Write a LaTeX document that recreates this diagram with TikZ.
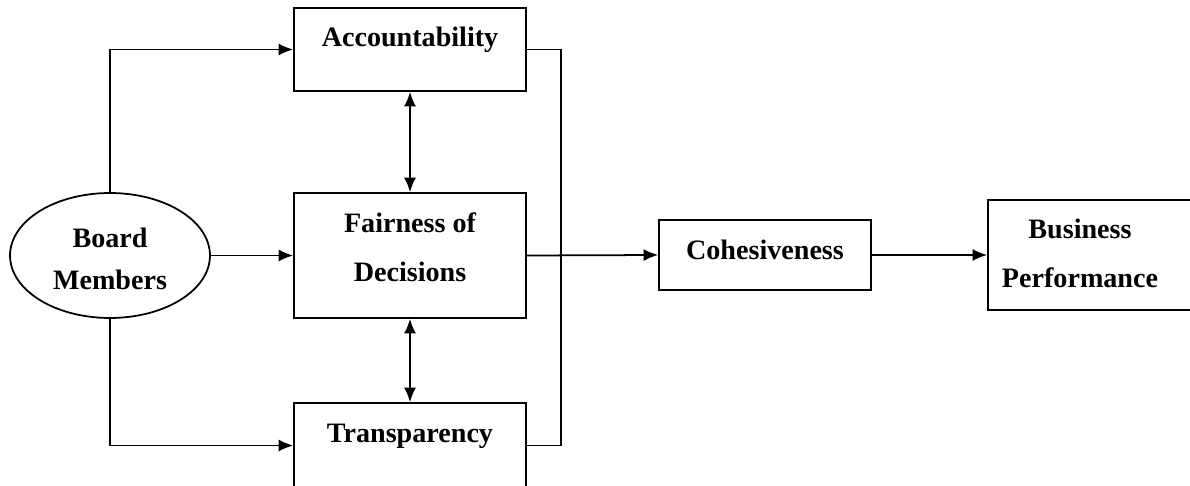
\documentclass[tikz,border=0pt]{standalone}
\usepackage{fontspec}
\setmainfont{Liberation Serif}
\usetikzlibrary{shapes.geometric, arrows.meta, positioning}

\tikzset{
  block/.style={draw, rectangle, line width=1pt, inner sep=0pt, minimum width=4.64cm},
  board/.style={draw, ellipse, line width=1pt, inner sep=0pt, minimum width=4cm, minimum height=2.5cm},
  lbl/.style={font=\fontsize{16}{28}\selectfont\bfseries, align=center, inner sep=0pt},
  link/.style={line width=1pt},
  arr/.style={link, -{Latex[length=2.9mm,width=2.4mm]}},
  dbl/.style={link, {Latex[length=2.9mm,width=2.4mm]}-{Latex[length=2.9mm,width=2.4mm]}}
}

\begin{document}
\begin{tikzpicture}[x=0.02cm,y=-0.02cm]
    \useasboundingbox (0,0) rectangle (1190,486);

    % the boxes
    \node[block, minimum height=1.66cm] (acc) at (410,49.5) {};
    \node[block, minimum height=2.5cm] (fair) at (410,255.5) {};
    \node[block, minimum height=1.7cm] (trans) at (410,445.5) {};
    \node[board] (bm) at (110,255.5) {};
    \node[block, minimum width=4.24cm, minimum height=1.4cm] (coh) at (765,255) {};
    \node[block, minimum width=4.16cm, minimum height=2.2cm] (bp) at (1092,255) {};

    % the texts in them
    \node[lbl] (acctext) at (410,40) {Accountability};
    \node[lbl] (fairtext) at (410,247) {Fairness of\\Decisions};
    \node[lbl] (transtext) at (410,436) {Transparency};
    \node[lbl, font=\fontsize{16}{24}\selectfont\bfseries] (bmtext) at (110,258.5) {Board\\Members};
    \node[lbl] (cohtext) at (765,250) {Cohesiveness};
    \node[lbl] (bptext) at (1080,253) {Business\\Performance};

    % board members to the three principles
    \draw[arr] (bm.north) |- (acc.west);
    \draw[arr] (bm.east) -- (fair.west);
    \draw[arr] (bm.south) |- (trans.west);

    % between the principles
    \draw[dbl] (acc.south) -- (fair.north);
    \draw[dbl] (fair.south) -- (trans.north);

    % the joining line and the outcome chain
    \draw[link] (acc.east) -- ++(34,0) |- (trans.east);
    \draw[arr] (fair.east) -- (coh.west);
    \draw[arr] (coh.east) -- (bp.west);
\end{tikzpicture}
\end{document}
